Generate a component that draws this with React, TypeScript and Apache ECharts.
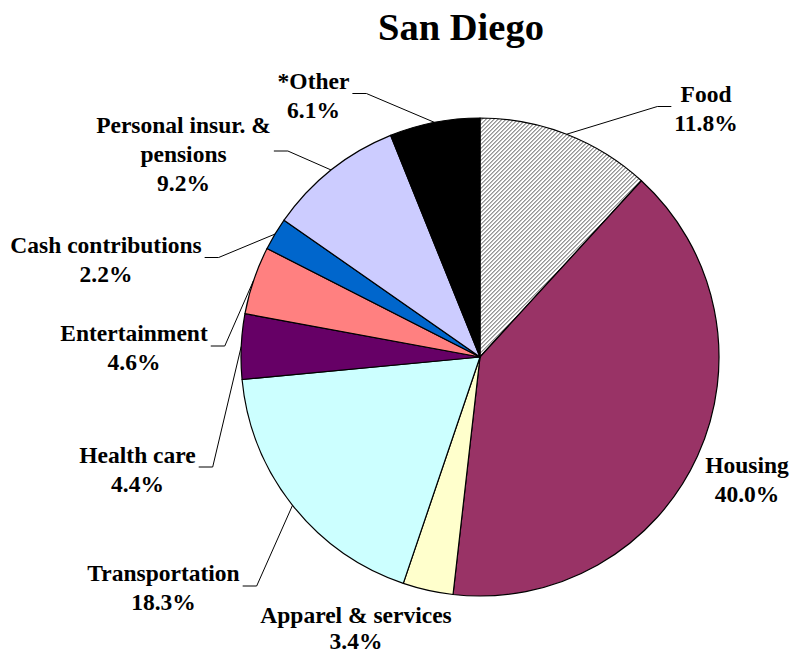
import React, { useEffect, useRef } from "react";
import * as echarts from "echarts";

const categories = [
  "Food",
  "Housing",
  "Apparel & services",
  "Transportation",
  "Health care",
  "Entertainment",
  "Cash contributions",
  "Personal insur. &\npensions",
  "*Other",
];
const shares = [11.8, 40.0, 3.4, 18.3, 4.4, 4.6, 2.2, 9.2, 6.1];
const colors = ["#ffffff", "#993366", "#ffffcc", "#ccffff", "#660066", "#ff8080", "#0066cc", "#ccccff", "#000000"];
// label centres (layout only, page pixels)
const labelPos: [number, number][] = [
  [706, 108],
  [747, 479],
  [356, 628],
  [163.5, 587],
  [137.5, 469],
  [134, 347],
  [106, 259],
  [183.5, 153.5],
  [313.5, 95],
];
const labelLineHeight = [29, 29, 26, 29, 29, 29, 29, 29, 29];
// which side of the label the leader line leaves from: -1 left, 1 right, 0 none
const lineSide = [-1, 0, 0, 1, 1, 1, 1, 1, 1];
const stubDy = [-1.5, 0, 0, -1, -2, -1, -1.5, -2.5, -1.5];

function makeHatch(): HTMLCanvasElement {
  const c = document.createElement("canvas");
  c.width = 8;
  c.height = 8;
  const ctx = c.getContext("2d")!;
  ctx.fillStyle = "#ffffff";
  ctx.fillRect(0, 0, 8, 8);
  for (let y = 0; y < 8; y++) {
    for (let x = 0; x < 8; x++) {
      const k = (x + y) % 4;
      if (k === 0) {
        ctx.fillStyle = "#969696";
        ctx.fillRect(x, y, 1, 1);
      } else if (k === 1) {
        ctx.fillStyle = "#bcbcbc";
        ctx.fillRect(x, y, 1, 1);
      }
    }
  }
  return c;
}

export default function App() {
  const ref = useRef<HTMLDivElement>(null);
  useEffect(() => {
    const chart = echarts.init(ref.current!, undefined, { renderer: "svg" });
    const hatch = makeHatch();
    chart.setOption({
      animation: false,
      title: {
        text: "San Diego",
        left: 456,
        top: 2,
        textAlign: "center",
        textStyle: { fontFamily: "Liberation Serif", fontWeight: "bold", fontSize: 38.5, color: "#000" },
      },
      series: [
        {
          type: "pie",
          center: [480, 357],
          radius: 239,
          startAngle: 90,
          clockwise: true,
          avoidLabelOverlap: false,
          itemStyle: { borderColor: "#000", borderWidth: 1.2 },
          label: {
            show: true,
            fontFamily: "Liberation Serif",
            fontWeight: "bold",
            fontSize: 23.5,
            lineHeight: 29,
            color: "#000",
            align: "center",
            overflow: "none",
            formatter: (p: any) => `${p.name}\n${p.value.toFixed(1)}%`,
          },
          labelLine: { show: true, lineStyle: { color: "#000", width: 1 } },
          labelLayout: (p: any) => {
            const i = p.dataIndex;
            const [cx, cy] = labelPos[i];
            const res: any = { x: cx, y: cy, align: "center", verticalAlign: "middle" };
            const side = lineSide[i];
            if (side !== 0 && p.labelLinePoints && p.labelLinePoints.length) {
              const w = p.labelRect.width;
              const edge = cx + side * (w / 2 + 3);
              const y = cy + stubDy[i];
              res.labelLinePoints = [p.labelLinePoints[0], [edge + side * 14, y], [edge, y]];
            }
            return res;
          },
          emphasis: { disabled: true },
          data: categories.map((c, i) => ({
            name: c,
            value: shares[i],
            label: { lineHeight: labelLineHeight[i] },
            labelLine: { show: lineSide[i] !== 0 },
            itemStyle:
              i === 0
                ? { color: { image: hatch, repeat: "repeat" } }
                : { color: colors[i] },
          })),
        },
      ],
    });
    return () => chart.dispose();
  }, []);
  return <div ref={ref} style={{ position: "absolute", left: 0, top: 0, width: 791, height: 654 }} />;
}
